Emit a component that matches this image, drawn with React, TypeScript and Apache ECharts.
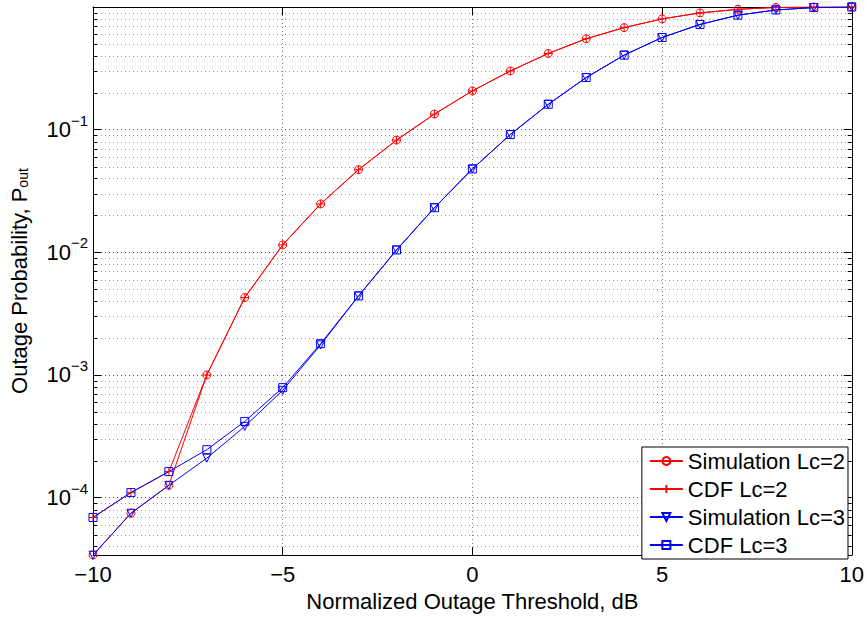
import React, { useEffect, useRef } from "react";
import * as echarts from "echarts";

const xValues = [-10, -9, -8, -7, -6, -5, -4, -3, -2, -1, 0, 1, 2, 3, 4, 5, 6, 7, 8, 9, 10];
const simLc2 = [3.4e-5, 7.46e-5, 1.26e-4, 1.0e-3, 4.28e-3, 1.15e-2, 2.48e-2, 4.72e-2, 8.22e-2, 0.134, 0.207, 0.301, 0.418, 0.551, 0.679, 0.8, 0.895, 0.958, 0.992, 0.999, 1.0];
const cdfLc2 = [6.89e-5, 1.1e-4, 1.63e-4, 1.0e-3, 4.28e-3, 1.15e-2, 2.48e-2, 4.72e-2, 8.22e-2, 0.134, 0.207, 0.301, 0.418, 0.551, 0.679, 0.8, 0.895, 0.958, 0.992, 0.999, 1.0];
const simLc3 = [3.4e-5, 7.46e-5, 1.26e-4, 2.1e-4, 3.81e-4, 7.5e-4, 1.76e-3, 4.41e-3, 1.045e-2, 2.31e-2, 4.78e-2, 9.12e-2, 0.161, 0.266, 0.405, 0.564, 0.721, 0.858, 0.946, 0.99, 1.0];
const cdfLc3 = [6.89e-5, 1.1e-4, 1.63e-4, 2.46e-4, 4.18e-4, 7.88e-4, 1.8e-3, 4.41e-3, 1.045e-2, 2.31e-2, 4.78e-2, 9.12e-2, 0.161, 0.266, 0.405, 0.564, 0.721, 0.858, 0.946, 0.99, 1.0];
const seriesNames = ["Simulation Lc=2", "CDF Lc=2", "Simulation Lc=3", "CDF Lc=3"];
const xMin = -10;
const xMax = 10;
const xInterval = 5;
const yMin = 3.4e-5;
const yMax = 1;
const minorDecades = [-5, -4, -3, -2, -1];
const minorMultipliers = [2, 3, 4, 5, 6, 7, 8, 9];

const FONT = "'Liberation Sans', Arial, Helvetica, sans-serif";
const RED = "#ff0000";
const BLUE = "#0000ff";

const minorTicks: number[] = [];
minorDecades.forEach((d) =>
  minorMultipliers.forEach((m) => {
    const v = m * Math.pow(10, d);
    if (v > yMin && v < yMax) minorTicks.push(v);
  })
);

const PLUS = "path://M5,0 L5,10 M0,5 L10,5";
const TRI_DOWN = "path://M0,0 L10,0 L5,9 Z";

function lineSeries(name: string, values: number[], color: string, symbol: string) {
  return {
    type: "line",
    name,
    data: xValues.map((x, i) => [x, values[i]]),
    symbol,
    symbolSize: 8,
    showAllSymbol: true,
    z: 3,
    lineStyle: { color, width: 1 },
    itemStyle: { color: "rgba(0,0,0,0)", borderColor: color, borderWidth: 1 },
    emphasis: { disabled: true },
  };
}

export default function App() {
  const ref = useRef<HTMLDivElement>(null);
  useEffect(() => {
    document.body.style.margin = "0";
    const chart = echarts.init(ref.current!, null, { renderer: "svg" });
    const axisLine = { show: true, onZero: false, lineStyle: { color: "#000", width: 1 } };
    chart.setOption({
      animation: false,
      backgroundColor: "#fff",
      textStyle: { fontFamily: FONT },
      grid: { left: 93, right: 15, top: 7, bottom: 53, containLabel: false },
      legend: {
        data: seriesNames,
        orient: "vertical",
        right: 19,
        bottom: 58,
        itemWidth: 33,
        itemHeight: 10,
        itemGap: 6,
        padding: [3, 3, 3, 7],
        borderColor: "#000",
        borderWidth: 1,
        borderRadius: 0,
        backgroundColor: "#fff",
        textStyle: { fontSize: 22, color: "#000", fontFamily: FONT },
        selectedMode: false,
      },
      xAxis: [
        {
          type: "value",
          min: xMin,
          max: xMax,
          interval: xInterval,
          position: "bottom",
          axisLine,
          axisTick: { show: true, inside: true, length: 8, lineStyle: { color: "#000" } },
          axisLabel: {
            fontSize: 22,
            color: "#000",
            fontFamily: FONT,
            margin: 8,
            formatter: (v: number) => (v < 0 ? "\u2212" + Math.abs(v) : String(v)),
          },
          splitLine: { show: true, lineStyle: { color: "#777", width: 1, type: [1, 3] } },
          name: "Normalized Outage Threshold, dB",
          nameLocation: "middle",
          nameGap: 27,
          nameTextStyle: { fontSize: 22, color: "#000", fontFamily: FONT },
        },
        {
          type: "value",
          min: xMin,
          max: xMax,
          interval: xInterval,
          position: "top",
          axisLine,
          axisTick: { show: true, inside: true, length: 8, lineStyle: { color: "#000" } },
          axisLabel: { show: false },
          splitLine: { show: false },
        },
      ],
      yAxis: [
        {
          type: "log",
          min: yMin,
          max: yMax,
          logBase: 10,
          position: "left",
          axisLine,
          axisTick: { show: true, inside: true, length: 8, lineStyle: { color: "#000" } },
          axisLabel: {
            color: "#000",
            margin: 5,
            showMinLabel: false,
            showMaxLabel: false,
            formatter: (v: number) => {
              const e = Math.log10(v);
              const r = Math.round(e);
              if (Math.abs(e - r) > 1e-6 || r >= 0) return "";
              return `{b|10}{s|\u2212${-r}}`;
            },
            rich: {
              b: { fontSize: 22, lineHeight: 34, color: "#000", fontFamily: FONT },
              s: { fontSize: 15, lineHeight: 15, verticalAlign: "top", color: "#000", fontFamily: FONT },
            },
          },
          splitLine: { show: true, lineStyle: { color: "#555", width: 1, type: [1, 3] } },
          name: "{a|Outage Probability, P}{s|out}",
          nameLocation: "middle",
          nameGap: 63,
          nameTextStyle: {
            color: "#000",
            rich: {
              a: { fontSize: 22, lineHeight: 22, color: "#000", fontFamily: FONT },
              s: { fontSize: 14, lineHeight: 14, verticalAlign: "bottom", color: "#000", fontFamily: FONT },
            },
          },
        },
        {
          type: "log",
          min: yMin,
          max: yMax,
          logBase: 10,
          position: "right",
          axisLine,
          axisTick: { show: true, inside: true, length: 8, lineStyle: { color: "#000" } },
          axisLabel: { show: false },
          splitLine: { show: false },
        },
      ],
      series: [
        {
          type: "custom",
          name: "minor",
          xAxisIndex: 0,
          yAxisIndex: 0,
          z: 1,
          silent: true,
          clip: false,
          data: minorTicks.map((v) => [xMin, v]),
          renderItem: (params: any, api: any) => {
            const cs = params.coordSys;
            const y = Math.round(api.coord([api.value(0), api.value(1)])[1]) + 0.5;
            const x0 = cs.x;
            const x1 = cs.x + cs.width;
            return {
              type: "group",
              children: [
                { type: "line", shape: { x1: x0, y1: y, x2: x1, y2: y }, style: { stroke: "#9a9a9a", lineWidth: 1, lineDash: [1, 3] } },
                { type: "line", shape: { x1: x0, y1: y, x2: x0 + 4, y2: y }, style: { stroke: "#000", lineWidth: 1 } },
                { type: "line", shape: { x1: x1 - 4, y1: y, x2: x1, y2: y }, style: { stroke: "#000", lineWidth: 1 } },
              ],
            };
          },
        },
        lineSeries(seriesNames[0], simLc2, RED, "circle"),
        lineSeries(seriesNames[1], cdfLc2, RED, PLUS),
        lineSeries(seriesNames[2], simLc3, BLUE, TRI_DOWN),
        lineSeries(seriesNames[3], cdfLc3, BLUE, "rect"),
      ],
    });
    return () => chart.dispose();
  }, []);
  return <div ref={ref} style={{ width: 867, height: 617 }} />;
}
